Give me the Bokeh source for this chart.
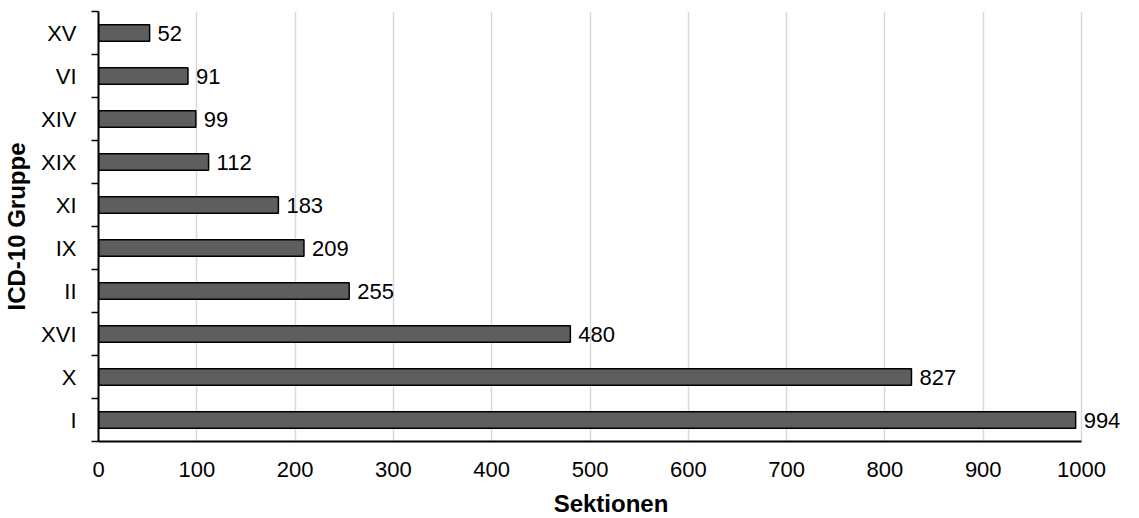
from bokeh.plotting import figure
from bokeh.models import ColumnDataSource, FixedTicker, Range1d, LabelSet
from bokeh.core.properties import value
from bokeh.embed import file_html
from bokeh.resources import INLINE

# Data (bottom to top)
categories = ["I", "X", "XVI", "II", "IX", "XI", "XIX", "XIV", "VI", "XV"]
values = [994, 827, 480, 255, 209, 183, 112, 99, 91, 52]
x_ticks = [0, 100, 200, 300, 400, 500, 600, 700, 800, 900, 1000]

positions = [i + 0.5 for i in range(len(categories))]
labels = [str(v) for v in values]
source = ColumnDataSource(dict(cat=categories, val=values, y=positions, lab=labels))

FONT = "Liberation Sans"
X_MAX = 1000
WIDTH = 1123
LEFT = 97
AXIS_PX = 984                 # pixels between 0 and X_MAX
FRAME_W = WIDTH - LEFT        # frame extends right to leave room for value labels

p = figure(width=WIDTH, height=528, output_backend="svg", toolbar_location=None,
           x_range=Range1d(0, X_MAX * FRAME_W / AXIS_PX), y_range=Range1d(0, len(categories)),
           min_border_left=LEFT, min_border_right=0, min_border_top=11, min_border_bottom=87)

p.hbar(y="y", right="val", left=0, height=0.38, source=source,
       fill_color="#5e5e5e", line_color="black", line_width=1.5)

labels_set = LabelSet(x="val", y="y", text="lab", source=source, x_offset=8,
                      text_baseline="middle", text_align="left",
                      text_font=value(FONT), text_font_size="22px", text_color="black")
p.add_layout(labels_set)

# x axis
p.xaxis.ticker = FixedTicker(ticks=x_ticks)
p.xaxis.bounds = (0, X_MAX)
p.xaxis.major_tick_out = 0
p.xaxis.major_tick_in = 0
p.xaxis.minor_tick_out = 0
p.xaxis.minor_tick_in = 0
p.xaxis.major_label_standoff = 20
p.xaxis.axis_line_color = "black"
p.xaxis.axis_line_width = 2
p.xaxis.axis_label = "Sektionen"
p.xaxis.axis_label_text_font = FONT
p.xaxis.axis_label_text_font_style = "bold"
p.xaxis.axis_label_text_font_size = "24px"
p.xaxis.axis_label_standoff = 10
p.xaxis.major_label_text_font = FONT
p.xaxis.major_label_text_font_size = "22px"
p.xaxis.major_label_text_color = "black"
p.xaxis.axis_label_text_color = "black"

# y axis: labels at centers, ticks at boundaries
p.yaxis.ticker = FixedTicker(ticks=positions, minor_ticks=list(range(len(categories) + 1)))
p.yaxis.major_label_overrides = {pos: c for pos, c in zip(positions, categories)}
p.yaxis.major_tick_out = 0
p.yaxis.major_tick_in = 0
p.yaxis.minor_tick_out = 7
p.yaxis.minor_tick_in = 0
p.yaxis.minor_tick_line_color = "black"
p.yaxis.minor_tick_line_width = 1.5
p.yaxis.major_label_standoff = 15
p.yaxis.axis_line_color = "black"
p.yaxis.axis_line_width = 2
p.yaxis.axis_label = "ICD-10 Gruppe"
p.yaxis.axis_label_text_font = FONT
p.yaxis.axis_label_text_font_style = "bold"
p.yaxis.axis_label_text_font_size = "24px"
p.yaxis.axis_label_standoff = 8
p.yaxis.major_label_text_font = FONT
p.yaxis.major_label_text_font_size = "22px"
p.yaxis.major_label_text_color = "black"
p.yaxis.axis_label_text_color = "black"

# vertical gridlines (the one at X_MAX closes the plot area on the right)
p.xgrid.ticker = FixedTicker(ticks=x_ticks)
p.xgrid.grid_line_color = "#d9d9d9"
p.xgrid.grid_line_width = 1.5
# top border of the plot area
p.ygrid.ticker = FixedTicker(ticks=[len(categories)])
p.ygrid.bounds = (0, X_MAX)
p.ygrid.grid_line_color = "#d9d9d9"
p.ygrid.grid_line_width = 2

p.outline_line_color = None
p.background_fill_color = "white"
p.border_fill_color = "white"

open("out.html", "w").write(file_html(p, INLINE))
